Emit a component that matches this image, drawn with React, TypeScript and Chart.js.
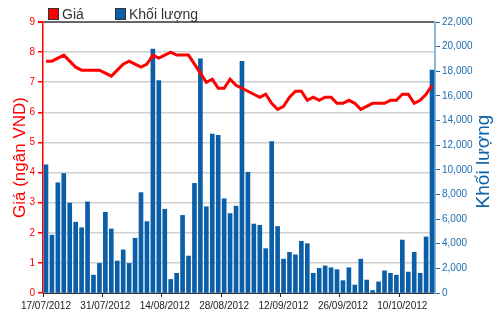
import { useEffect, useRef } from "react";
import { Chart, registerables } from "chart.js";

Chart.register(...registerables);

const dates = [
  "17/07/2012", "18/07/2012", "19/07/2012", "20/07/2012", "23/07/2012", "24/07/2012", "25/07/2012", "26/07/2012", "27/07/2012", "30/07/2012",
  "31/07/2012", "01/08/2012", "02/08/2012", "03/08/2012", "06/08/2012", "07/08/2012", "08/08/2012", "09/08/2012", "10/08/2012", "13/08/2012",
  "14/08/2012", "15/08/2012", "16/08/2012", "17/08/2012", "20/08/2012", "21/08/2012", "22/08/2012", "23/08/2012", "24/08/2012", "27/08/2012",
  "28/08/2012", "29/08/2012", "30/08/2012", "31/08/2012", "04/09/2012", "05/09/2012", "06/09/2012", "07/09/2012", "10/09/2012", "11/09/2012",
  "12/09/2012", "13/09/2012", "14/09/2012", "17/09/2012", "18/09/2012", "19/09/2012", "20/09/2012", "21/09/2012", "24/09/2012", "25/09/2012",
  "26/09/2012", "27/09/2012", "28/09/2012", "01/10/2012", "02/10/2012", "03/10/2012", "04/10/2012", "05/10/2012", "08/10/2012", "09/10/2012",
  "10/10/2012", "11/10/2012", "12/10/2012", "15/10/2012", "16/10/2012", "17/10/2012",
];

const volume = [
  10400, 4700, 8950, 9700, 7300, 5750, 5300, 7400, 1450, 2400,
  6550, 5200, 2600, 3500, 2400, 4450, 8150, 5800, 19800, 17250,
  6800, 1100, 1600, 6300, 3000, 8900, 19000, 7000, 12900, 12800,
  7650, 6450, 7050, 18800, 9800, 5600, 5500, 3600, 12300, 5400,
  2750, 3300, 3100, 4200, 4000, 1600, 2000, 2200, 2050, 1900,
  1000, 2050, 650, 2750, 1050, 200, 900, 1800, 1600, 1450,
  4300, 1700, 3300, 1600, 4550, 18100,
];

const price = [
  7.7, 7.7, 7.8, 7.9, 7.7, 7.5, 7.4, 7.4, 7.4, 7.4,
  7.3, 7.2, 7.4, 7.6, 7.7, 7.6, 7.5, 7.6, 7.9, 7.8,
  7.9, 8.0, 7.9, 7.9, 7.9, 7.6, 7.3, 7.0, 7.1, 6.8,
  6.8, 7.1, 6.9, 6.8, 6.7, 6.6, 6.5, 6.6, 6.3, 6.1,
  6.2, 6.5, 6.7, 6.7, 6.4, 6.5, 6.4, 6.5, 6.5, 6.3,
  6.3, 6.4, 6.3, 6.1, 6.2, 6.3, 6.3, 6.3, 6.4, 6.4,
  6.6, 6.6, 6.3, 6.4, 6.6, 6.9,
];

const priceAxis = { min: 0, max: 9, step: 1 };
const volumeAxis = { min: 0, max: 22000, step: 2000 };
const labelEvery = 10;

const seriesNames = ["Giá", "Khối lượng"];
const axisTitles = ["Giá (ngân VND)", "Khối lượng"];

const RED = "#ff0000";
const BLUE = "#0b5ea8";
const BLUE_TEXT = "#1f6db0";
const SANS = '"Liberation Sans", Arial, sans-serif';

const decor = {
  id: "decor",
  afterDraw(chart: any) {
    const { ctx, chartArea } = chart;
    const midY = (chartArea.top + chartArea.bottom) / 2;
    ctx.save();
    ctx.save();
    ctx.translate(20, midY);
    ctx.rotate(-Math.PI / 2);
    ctx.font = "17px " + SANS;
    ctx.fillStyle = RED;
    ctx.textAlign = "center";
    ctx.textBaseline = "middle";
    ctx.fillText(axisTitles[0], 0, 0);
    ctx.restore();
    ctx.save();
    ctx.translate(484, midY + 4);
    ctx.rotate(-Math.PI / 2);
    ctx.font = "19px " + SANS;
    ctx.fillStyle = "#0d63a8";
    ctx.textAlign = "center";
    ctx.textBaseline = "middle";
    ctx.fillText(axisTitles[1], 0, 0);
    ctx.restore();
    const items = [
      { x: 48, color: RED, text: seriesNames[0] },
      { x: 115, color: BLUE, text: seriesNames[1] },
    ];
    ctx.font = "14px " + SANS;
    ctx.textBaseline = "middle";
    ctx.textAlign = "left";
    for (const it of items) {
      ctx.fillStyle = it.color;
      ctx.fillRect(it.x, 8.5, 10, 11);
      ctx.strokeStyle = "#333";
      ctx.lineWidth = 1;
      ctx.strokeRect(it.x + 0.5, 8.5, 10, 11);
      ctx.fillStyle = "#333";
      ctx.fillText(it.text, it.x + 14, 15);
    }
    ctx.restore();
  },
};

export default function App() {
  const ref = useRef<HTMLCanvasElement | null>(null);

  useEffect(() => {
    if (!ref.current) return;
    const chart = new Chart(ref.current, {
      type: "bar",
      data: {
        labels: dates,
        datasets: [
          {
            type: "line",
            label: seriesNames[0],
            data: price,
            yAxisID: "y",
            borderColor: RED,
            borderWidth: 3,
            pointRadius: 0,
            tension: 0,
            order: 0,
          } as any,
          {
            type: "bar",
            label: seriesNames[1],
            data: volume,
            yAxisID: "y1",
            backgroundColor: BLUE,
            barThickness: 4,
            order: 1,
          } as any,
        ],
      },
      options: {
        responsive: false,
        animation: false,
        layout: { padding: { top: 22, left: 0, right: 0, bottom: 0 } },
        plugins: { legend: { display: false }, tooltip: { enabled: false } },
        scales: {
          x: {
            type: "category",
            offset: true,
            afterFit(scale: any) {
              scale.height = 19;
            },
            grid: {
              offset: true,
              drawOnChartArea: false,
              tickLength: 4,
              tickColor: (c: any) => (c.index % labelEvery === 0 ? "#222" : "rgba(0,0,0,0)"),
            },
            border: { color: "#333", width: 1 },
            ticks: {
              autoSkip: false,
              maxRotation: 0,
              minRotation: 0,
              padding: 3,
              color: "#222",
              font: { family: SANS, size: 10 },
              callback: (_v: any, i: number) => (i % labelEvery === 0 ? dates[i] : ""),
            },
          },
          y: {
            position: "left",
            min: priceAxis.min,
            max: priceAxis.max,
            afterFit(scale: any) {
              scale.width = 43;
            },
            grid: {
              color: (c: any) => (c.tick && c.tick.value === priceAxis.max ? "#666" : "#d0d0d0"),
              lineWidth: (c: any) => (c.tick && c.tick.value === priceAxis.max ? 2 : 1.5),
              tickColor: RED,
              tickLength: 5,
            },
            border: { color: RED, width: 1.5 },
            ticks: {
              stepSize: priceAxis.step,
              color: RED,
              padding: 3,
              font: { family: SANS, size: 10 },
            },
          },
          y1: {
            position: "right",
            min: volumeAxis.min,
            max: volumeAxis.max,
            afterFit(scale: any) {
              scale.width = 65;
            },
            grid: {
              drawOnChartArea: false,
              tickColor: BLUE_TEXT,
              tickLength: 5,
            },
            border: { color: "#8ab8d8", width: 2 },
            ticks: {
              stepSize: volumeAxis.step,
              color: BLUE_TEXT,
              padding: 2,
              font: { family: SANS, size: 10 },
            },
          },
        },
      },
      plugins: [decor],
    });
    return () => chart.destroy();
  }, []);

  return (
    <div style={{ position: "absolute", left: 0, top: 0, width: 500, height: 312, background: "#fff" }}>
      <canvas ref={ref} width={500} height={312} style={{ display: "block" }} />
    </div>
  );
}
